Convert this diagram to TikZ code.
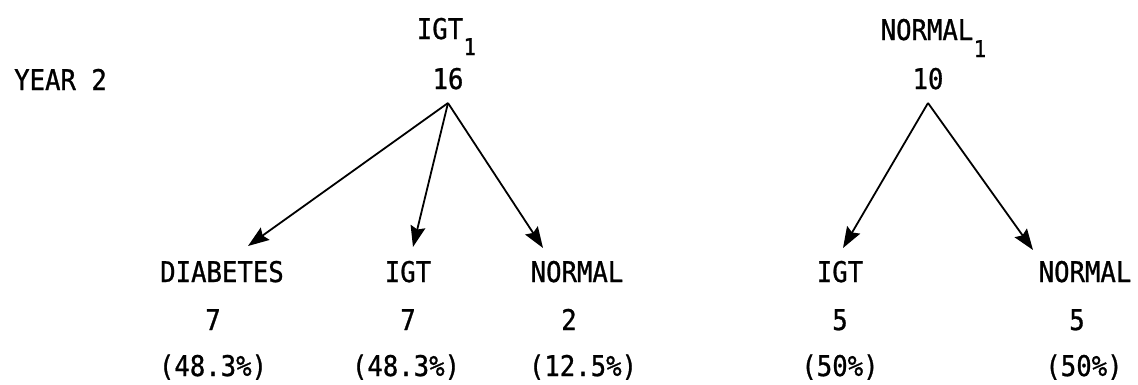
\documentclass[tikz,border=0pt]{standalone}
\usepackage{fontspec}
\usetikzlibrary{arrows.meta}
\newfontfamily\tw[FakeStretch=0.9,FakeBold=0.9]{DejaVu Sans Mono}
\begin{document}
\begin{tikzpicture}[x=1pt,y=-1pt,
  txt/.style={font=\tw\fontsize{28.5}{30}\selectfont, inner sep=0pt, anchor=base},
  sub/.style={font=\tw\fontsize{23}{24}\selectfont, inner sep=0pt, anchor=base west},
  arr/.style={line width=1.8pt, -{Stealth[length=21pt,width=15pt,inset=3pt]}}]
\fill[white] (0,0) rectangle (1138,384);
\useasboundingbox (0,0) rectangle (1138,384);
% year label
\node[txt, anchor=base west] (year) at (14,90) {YEAR 2};
% left tree
\node[txt] (igt1) at (440,39) {IGT};
\node[sub] (igt1s) at ([yshift=-16pt]igt1.base east) {1};
\node[txt] (n16) at (448,89) {16};
\coordinate (a1) at (448,103);
\node[txt] (diab) at (222,282) {DIABETES};
\node[txt] (diabn) at (213,330) {7};
\node[txt] (diabp) at (213,376) {(48.3\%)};
\node[txt] (igt) at (408,282) {IGT};
\node[txt] (igtn) at (408,330) {7};
\node[txt] (igtp) at (406,376) {(48.3\%)};
\node[txt] (norm) at (577,282) {NORMAL};
\node[txt] (normn) at (569,330) {2};
\node[txt] (normp) at (583,376) {(12.5\%)};
\coordinate (t1) at (248,246);
\coordinate (t2) at (413,247);
\coordinate (t3) at (543,248);
\draw[arr] (a1) -- (t1);
\draw[arr] (a1) -- (t2);
\draw[arr] (a1) -- (t3);
% right tree
\node[txt] (nor1) at (927,40) {NORMAL};
\node[sub] (nor1s) at ([yshift=-17pt]nor1.base east) {1};
\node[txt] (n10) at (928,89) {10};
\coordinate (a2) at (928,103);
\node[txt] (igtr) at (840,282) {IGT};
\node[txt] (igtrn) at (840,330) {5};
\node[txt] (igtrp) at (840,376) {(50\%)};
\node[txt] (normr) at (1085,282) {NORMAL};
\node[txt] (normrn) at (1077,330) {5};
\node[txt] (normrp) at (1084,376) {(50\%)};
\coordinate (t4) at (843,248);
\coordinate (t5) at (1033,250);
\draw[arr] (a2) -- (t4);
\draw[arr] (a2) -- (t5);
\end{tikzpicture}
\end{document}
